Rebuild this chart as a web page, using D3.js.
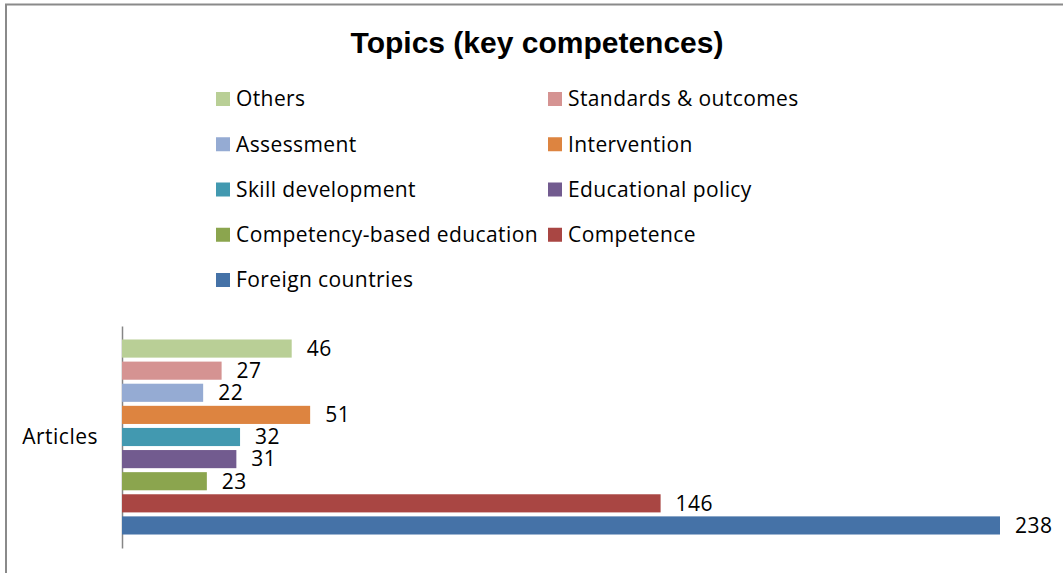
<!DOCTYPE html>
<html>
<head>
<meta charset="utf-8">
<script src="https://cdn.jsdelivr.net/npm/d3@7"></script>
<style>
  body { margin: 0; background: #fff; }
  svg { display: block; }
  .axis path { stroke: #868686; stroke-width: 1.5; }
  .axis text { font-family: "Open Sans", sans-serif; font-size: 21px; letter-spacing: 0.5px; fill: #000; }
</style>
</head>
<body>
<svg id="chart" width="1063" height="573"></svg>
<script>
// categories, top to bottom as drawn
var topics = ["Others", "Standards & outcomes", "Assessment", "Intervention",
  "Skill development", "Educational policy", "Competency-based education",
  "Competence", "Foreign countries"];
var articles = [46, 27, 22, 51, 32, 31, 23, 146, 238];
var colors = ["#b9cf96", "#d59392", "#95abd3", "#dd8440", "#4299b0",
  "#725b8f", "#8ba54e", "#a94643", "#4572a7"];
var groupName = ["Articles"];
// legend reads row by row, two columns
var legendOrder = ["Others", "Standards & outcomes", "Assessment", "Intervention",
  "Skill development", "Educational policy", "Competency-based education",
  "Competence", "Foreign countries"];

var svg = d3.select("#chart");

// chart frame
svg.append("path")
  .attr("d", "M6,573 L6,4.5 L1063,4.5")
  .attr("fill", "none")
  .attr("stroke", "#8a8a8a")
  .attr("stroke-width", 2);

svg.append("text")
  .attr("x", 537)
  .attr("y", 53)
  .attr("text-anchor", "middle")
  .style("font-family", "'Liberation Sans', Arial, sans-serif")
  .style("font-weight", "bold")
  .style("font-size", "30px")
  .text("Topics (key competences)");

// legend
var colorScale = d3.scaleOrdinal().domain(topics).range(colors);
var legendCol = d3.scaleOrdinal().domain([0, 1]).range([216, 548]);
var legendRow = d3.scaleLinear().domain([0, 4]).range([99, 280]);

var legend = svg.append("g").selectAll("g")
  .data(legendOrder)
  .enter().append("g")
  .attr("transform", function (d, i) {
    return "translate(" + legendCol(i % 2) + "," + legendRow(Math.floor(i / 2)) + ")";
  });

legend.append("rect")
  .attr("x", 0).attr("y", -7)
  .attr("width", 14).attr("height", 14)
  .attr("fill", function (d) { return colorScale(d); });

legend.append("text")
  .attr("x", 20)
  .attr("dy", "0.35em")
  .style("font-family", "'Open Sans', sans-serif")
  .style("font-size", "21px")
  .style("letter-spacing", "0.4px")
  .text(function (d) { return d; });

// scales
var xScale = d3.scaleLinear().domain([0, 238]).range([122, 1000]);
var yScale = d3.scaleBand().domain(topics).range([326, 548])
  .paddingInner(0.18).paddingOuter(0.61);
var groupScale = d3.scaleBand().domain(groupName).range([326, 548]);

// category axis
svg.append("g")
  .attr("class", "axis")
  .attr("transform", "translate(122,0)")
  .call(d3.axisLeft(groupScale).tickSize(0).tickSizeOuter(0).tickPadding(24));

// bars
svg.append("g").selectAll("rect")
  .data(topics)
  .enter().append("rect")
  .attr("x", xScale(0))
  .attr("y", function (d) { return yScale(d); })
  .attr("width", function (d, i) { return xScale(articles[i]) - xScale(0); })
  .attr("height", yScale.bandwidth())
  .attr("fill", function (d) { return colorScale(d); });

// value labels
svg.append("g").selectAll("text")
  .data(topics)
  .enter().append("text")
  .attr("x", function (d, i) { return xScale(articles[i]) + 15; })
  .attr("y", function (d) { return yScale(d) + yScale.bandwidth() / 2; })
  .attr("dy", "0.35em")
  .style("font-family", "'Open Sans', sans-serif")
  .style("font-size", "21px")
  .style("letter-spacing", "0.5px")
  .text(function (d, i) { return articles[i]; });
</script>
</body>
</html>
